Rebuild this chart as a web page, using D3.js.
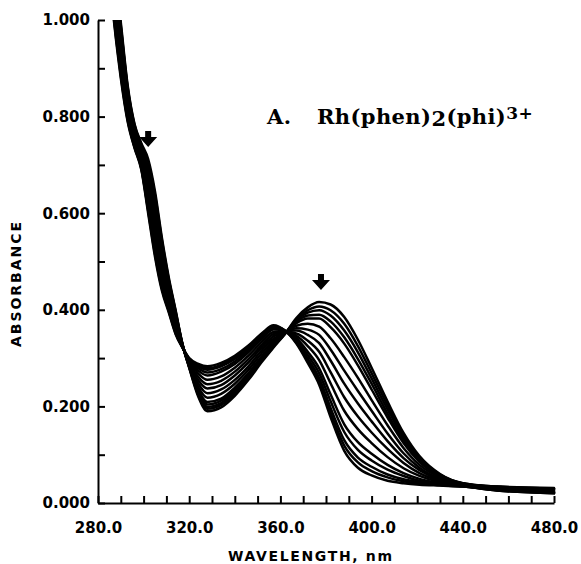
<!DOCTYPE html>
<html>
<head>
<meta charset="utf-8">
<script src="https://cdn.jsdelivr.net/npm/d3@7"></script>
<style>
  body { margin: 0; background: #fff; }
  svg { display: block; }
</style>
</head>
<body>
<svg id="chart" width="581" height="564"></svg>
<script>
// wavelength grid (nm) shared by every spectrum
const wavelengths = [286, 288, 290, 293, 296, 299, 302, 305, 308, 311, 314, 317, 320, 324, 328, 334, 340, 346,
  352, 357, 362, 367, 372, 377, 382, 388, 394, 400, 407, 414, 421, 430, 440, 455, 480];

// absorbance traces of the titration, first to last
const spectra = [
  [1.160, 1.080, 0.995, 0.865, 0.785, 0.745, 0.712, 0.645, 0.550, 0.468, 0.400, 0.330, 0.280, 0.220, 0.190, 0.198, 0.222, 0.255, 0.293, 0.322, 0.350, 0.383, 0.405, 0.416, 0.411, 0.385, 0.338, 0.280, 0.210, 0.145, 0.097, 0.060, 0.041, 0.034, 0.031],
  [1.154, 1.074, 0.989, 0.861, 0.783, 0.742, 0.706, 0.638, 0.545, 0.464, 0.398, 0.330, 0.281, 0.223, 0.195, 0.203, 0.226, 0.259, 0.296, 0.324, 0.350, 0.380, 0.399, 0.407, 0.399, 0.371, 0.325, 0.269, 0.202, 0.140, 0.094, 0.059, 0.041, 0.034, 0.030],
  [1.148, 1.068, 0.984, 0.858, 0.780, 0.740, 0.701, 0.632, 0.539, 0.461, 0.395, 0.329, 0.282, 0.227, 0.199, 0.207, 0.230, 0.262, 0.299, 0.327, 0.351, 0.378, 0.394, 0.399, 0.388, 0.357, 0.312, 0.258, 0.194, 0.135, 0.091, 0.058, 0.040, 0.033, 0.030],
  [1.142, 1.061, 0.978, 0.854, 0.778, 0.737, 0.695, 0.625, 0.534, 0.457, 0.393, 0.329, 0.283, 0.230, 0.204, 0.212, 0.234, 0.266, 0.302, 0.329, 0.351, 0.375, 0.388, 0.390, 0.376, 0.343, 0.298, 0.247, 0.185, 0.129, 0.088, 0.056, 0.040, 0.033, 0.029],
  [1.136, 1.055, 0.972, 0.850, 0.775, 0.734, 0.690, 0.618, 0.528, 0.453, 0.390, 0.328, 0.284, 0.234, 0.209, 0.216, 0.239, 0.269, 0.305, 0.331, 0.351, 0.372, 0.382, 0.382, 0.364, 0.330, 0.285, 0.235, 0.177, 0.124, 0.085, 0.055, 0.040, 0.032, 0.029],
  [1.124, 1.043, 0.961, 0.843, 0.770, 0.729, 0.678, 0.605, 0.517, 0.446, 0.385, 0.328, 0.286, 0.240, 0.218, 0.226, 0.247, 0.276, 0.311, 0.336, 0.352, 0.367, 0.371, 0.365, 0.341, 0.302, 0.259, 0.213, 0.161, 0.114, 0.079, 0.053, 0.039, 0.032, 0.028],
  [1.112, 1.030, 0.949, 0.835, 0.765, 0.723, 0.667, 0.591, 0.506, 0.439, 0.380, 0.327, 0.288, 0.247, 0.227, 0.235, 0.255, 0.283, 0.317, 0.340, 0.353, 0.362, 0.359, 0.348, 0.318, 0.274, 0.232, 0.191, 0.144, 0.103, 0.073, 0.050, 0.038, 0.031, 0.027],
  [1.100, 1.018, 0.938, 0.828, 0.760, 0.718, 0.656, 0.578, 0.495, 0.432, 0.375, 0.326, 0.290, 0.254, 0.237, 0.244, 0.264, 0.291, 0.323, 0.345, 0.354, 0.357, 0.348, 0.331, 0.295, 0.247, 0.206, 0.169, 0.128, 0.093, 0.068, 0.048, 0.038, 0.030, 0.026],
  [1.088, 1.005, 0.926, 0.820, 0.755, 0.712, 0.645, 0.564, 0.484, 0.424, 0.370, 0.325, 0.292, 0.261, 0.246, 0.253, 0.272, 0.298, 0.328, 0.350, 0.354, 0.351, 0.336, 0.313, 0.271, 0.219, 0.179, 0.146, 0.112, 0.083, 0.062, 0.046, 0.037, 0.029, 0.024],
  [1.076, 0.993, 0.915, 0.813, 0.750, 0.707, 0.634, 0.551, 0.473, 0.417, 0.365, 0.324, 0.294, 0.268, 0.255, 0.262, 0.280, 0.305, 0.334, 0.354, 0.355, 0.346, 0.325, 0.296, 0.248, 0.191, 0.153, 0.124, 0.095, 0.072, 0.056, 0.043, 0.036, 0.028, 0.023],
  [1.064, 0.980, 0.903, 0.805, 0.745, 0.701, 0.622, 0.537, 0.462, 0.410, 0.360, 0.324, 0.296, 0.274, 0.264, 0.272, 0.288, 0.312, 0.340, 0.359, 0.356, 0.341, 0.313, 0.279, 0.225, 0.163, 0.126, 0.102, 0.079, 0.062, 0.050, 0.041, 0.035, 0.028, 0.022],
  [1.057, 0.973, 0.896, 0.801, 0.742, 0.698, 0.616, 0.529, 0.455, 0.405, 0.357, 0.323, 0.297, 0.279, 0.270, 0.277, 0.293, 0.316, 0.344, 0.362, 0.356, 0.337, 0.306, 0.269, 0.211, 0.147, 0.110, 0.088, 0.069, 0.056, 0.046, 0.039, 0.035, 0.027, 0.022],
  [1.050, 0.965, 0.889, 0.796, 0.739, 0.694, 0.609, 0.521, 0.449, 0.401, 0.354, 0.323, 0.298, 0.283, 0.276, 0.283, 0.298, 0.320, 0.347, 0.364, 0.356, 0.334, 0.299, 0.259, 0.197, 0.130, 0.094, 0.075, 0.059, 0.049, 0.043, 0.038, 0.035, 0.027, 0.021],
  [1.045, 0.960, 0.885, 0.793, 0.737, 0.692, 0.605, 0.515, 0.444, 0.398, 0.352, 0.322, 0.299, 0.285, 0.279, 0.286, 0.302, 0.323, 0.350, 0.366, 0.357, 0.332, 0.295, 0.252, 0.187, 0.119, 0.084, 0.066, 0.053, 0.045, 0.040, 0.037, 0.034, 0.026, 0.020],
  [1.040, 0.955, 0.880, 0.790, 0.735, 0.690, 0.600, 0.510, 0.440, 0.395, 0.350, 0.322, 0.300, 0.288, 0.283, 0.290, 0.305, 0.326, 0.352, 0.368, 0.357, 0.330, 0.290, 0.245, 0.178, 0.108, 0.073, 0.057, 0.046, 0.041, 0.038, 0.036, 0.034, 0.026, 0.020]
];

const xTicks = [280, 290, 300, 310, 320, 330, 340, 350, 360, 370, 380, 390, 400, 410, 420, 430, 440, 450, 460, 470, 480];
const xLabelled = [280, 320, 360, 400, 440, 480];
const yTicks = [0, 0.1, 0.2, 0.3, 0.4, 0.5, 0.6, 0.7, 0.8, 0.9, 1.0];
const yLabelled = [0, 0.2, 0.4, 0.6, 0.8, 1.0];

// arrows marking decreasing bands: wavelength, absorbance of the tip
const arrowNm = [302, 377.8];
const arrowAbs = [0.737, 0.441];

const width = 581, height = 564;
const margin = {left: 98, right: 27, top: 20, bottom: 61};

const svg = d3.select('#chart');

const x = d3.scaleLinear([280, 480], [margin.left, width - margin.right]);
const y = d3.scaleLinear([0, 1], [height - margin.bottom, margin.top]);

svg.append('defs').append('clipPath').attr('id', 'plot')
  .append('rect')
  .attr('x', margin.left)
  .attr('y', margin.top)
  .attr('width', width - margin.left - margin.right + 3)
  .attr('height', height - margin.top - margin.bottom);

const line = d3.line()
  .x((d, i) => x(wavelengths[i]))
  .y(d => y(d))
  .curve(d3.curveMonotoneX);

svg.append('g')
  .attr('clip-path', 'url(#plot)')
  .selectAll('path')
  .data(spectra)
  .join('path')
  .attr('d', line)
  .attr('fill', 'none')
  .attr('stroke', '#000')
  .attr('stroke-width', 2.5)
  .attr('stroke-linejoin', 'round')
  .attr('stroke-linecap', 'round');

const fmtY = d3.format('.3f');
const fmtX = d3.format('.1f');

const yAxis = d3.axisLeft(y)
  .tickValues(yTicks)
  .tickSize(-7)
  .tickSizeOuter(0)
  .tickPadding(8)
  .tickFormat(d => yLabelled.some(v => Math.abs(v - d) < 1e-9) ? fmtY(d) : '');

const xAxis = d3.axisBottom(x)
  .tickValues(xTicks)
  .tickSize(-7)
  .tickSizeOuter(0)
  .tickPadding(19)
  .tickFormat(d => xLabelled.includes(d) ? fmtX(d) : '');

const gy = svg.append('g')
  .attr('transform', `translate(${margin.left},0)`)
  .call(yAxis);

const gx = svg.append('g')
  .attr('transform', `translate(0,${height - margin.bottom})`)
  .call(xAxis);

[gx, gy].forEach(g => {
  g.select('.domain').attr('stroke', '#000').attr('stroke-width', 2);
  g.selectAll('.tick line').attr('stroke', '#000').attr('stroke-width', 2);
  g.selectAll('.tick text')
    .attr('fill', '#000')
    .style('font-family', '"DejaVu Sans", sans-serif')
    .style('font-weight', 'bold')
    .style('font-size', '15px');
});

// axis titles
svg.append('text')
  .attr('x', 228)
  .attr('y', 561)
  .attr('textLength', 164)
  .attr('lengthAdjust', 'spacing')
  .style('font-family', '"DejaVu Sans", sans-serif')
  .style('font-weight', 'bold')
  .style('font-size', '14px')
  .text('WAVELENGTH, nm');

svg.append('text')
  .attr('transform', 'translate(21,284.5) rotate(-90)')
  .attr('text-anchor', 'middle')
  .attr('textLength', 125)
  .attr('lengthAdjust', 'spacing')
  .style('font-family', '"DejaVu Sans", sans-serif')
  .style('font-weight', 'bold')
  .style('font-size', '14px')
  .text('ABSORBANCE');

// panel title
const title = svg.append('text')
  .attr('x', 267)
  .attr('y', 124)
  .style('font-family', '"DejaVu Serif", serif')
  .style('font-weight', 'bold')
  .style('font-size', '21px')
  .style('letter-spacing', '0.4px');
title.append('tspan').text('A.');
title.append('tspan').attr('x', 317).text('Rh(phen)');
title.append('tspan').attr('dy', 2).text('2');
title.append('tspan').attr('dy', -2).text('(phi)');
title.append('tspan').attr('dy', -5).style('font-size', '17px').text('3+');

// down arrows
svg.append('g')
  .selectAll('path')
  .data(arrowNm)
  .join('path')
  .attr('transform', (d, i) => `translate(${x(d)},${y(arrowAbs[i])})`)
  .attr('d', 'M-3,-16H3V-10H9L0,0L-9,-10H-3Z')
  .attr('fill', '#000');
</script>
</body>
</html>
